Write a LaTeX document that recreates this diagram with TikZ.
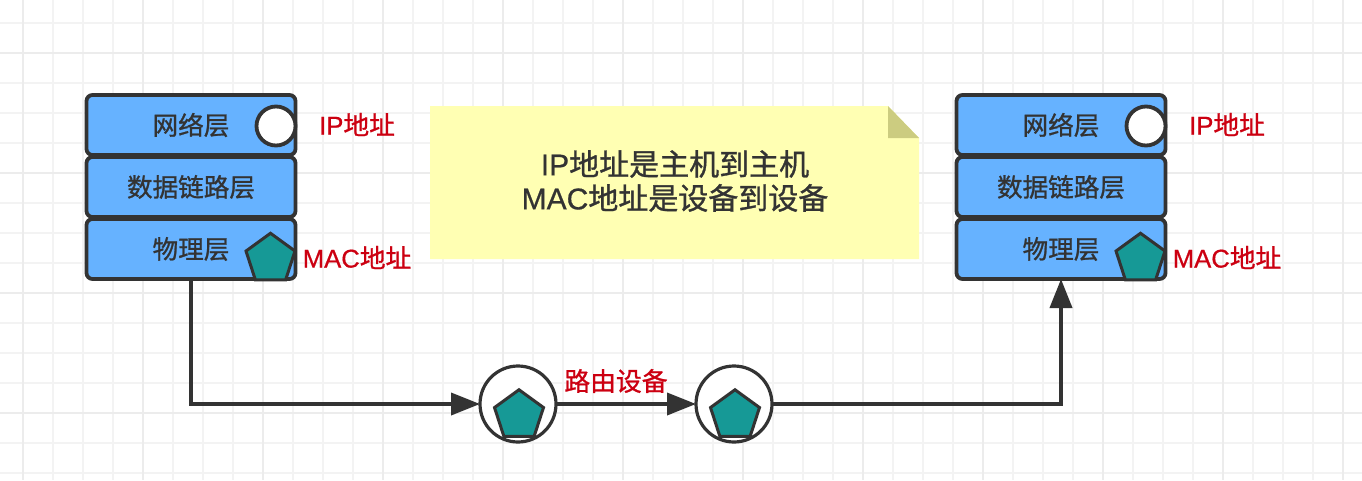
\documentclass[tikz,border=0pt]{standalone}
\usepackage{fontspec}
\setmainfont[FakeBold=1.0]{Noto Sans CJK SC}
\newfontfamily\latinf[FakeBold=0.6]{Liberation Sans}
\usetikzlibrary{shapes.geometric,arrows.meta}
\definecolor{ink}{HTML}{333333}
\definecolor{redtext}{HTML}{CC0011}
\definecolor{bluefill}{HTML}{66B2FF}
\definecolor{tealfill}{HTML}{169996}
\definecolor{notefill}{HTML}{FFFFB3}
\definecolor{foldfill}{HTML}{CCCC80}
\definecolor{gridminor}{HTML}{F3F3F3}
\definecolor{gridmajor}{HTML}{ECECEC}
\tikzset{
  x=1pt,y=-1pt,
  layerbox/.style={draw=ink,fill=bluefill,line width=3.8pt,rounded corners=6pt,minimum width=209pt,minimum height=60pt,inner sep=0pt,outer sep=0pt,text=ink,font=\fontsize{25.6}{30}\selectfont},
  iphole/.style={circle,draw=ink,fill=white,line width=3.8pt,minimum size=39pt,inner sep=0pt},
  penta/.style={regular polygon,regular polygon sides=5,draw=ink,fill=tealfill,line width=3pt,minimum size=51.5pt,inner sep=0pt},
  routerring/.style={circle,draw=ink,fill=white,line width=3.2pt,minimum size=76pt,inner sep=0pt,outer sep=0pt},
  redlabel/.style={text=redtext,inner sep=0pt,font=\fontsize{25.7}{30}\selectfont},
  routerlabel/.style={text=redtext,inner sep=0pt,font=\fontsize{25.8}{30}\selectfont},
  notetext/.style={text=ink,inner sep=0pt,align=center,font=\fontsize{30}{34}\selectfont},
  wire/.style={draw=ink,line width=3.8pt},
  wirearrow/.style={wire,-{Triangle[length=29pt,width=22pt]}},
}
\begin{document}
\begin{tikzpicture}
\useasboundingbox (0,0) rectangle (1362,480);
\fill[white] (0,0) rectangle (1362,480);
% grid
\foreach \gx in {23,53,...,1343} \draw[gridminor,line width=1.5pt] (\gx,0) -- (\gx,480);
\foreach \gy in {23,53,...,473} \draw[gridminor,line width=1.5pt] (0,\gy) -- (1362,\gy);
\foreach \gx in {23,143,...,1343} \draw[gridmajor,line width=1.8pt] (\gx,0) -- (\gx,480);
\foreach \gy in {53,173,293,413} \draw[gridmajor,line width=1.8pt] (0,\gy) -- (1362,\gy);
% note
\fill[notefill] (430,106) -- (888,106) -- (919,138) -- (919,259) -- (430,259) -- cycle;
\fill[foldfill] (888,106) -- (919,138) -- (888,138) -- cycle;
\node[notetext] (note) at (675,181) {{\latinf IP}地址是主机到主机\\{\latinf MAC}地址是设备到设备};
% left stack
\node[layerbox] (netL) at (191,125) {网络层};
\node[layerbox] (linkL) at (191,187) {数据链路层};
\node[layerbox] (physL) at (191,249) {物理层};
\node[iphole] (ipL) at (276,126) {};
\node[penta] (macL) at (270.5,259) {};
\node[redlabel] (iplabelL) at (357,124.5) {{\latinf IP}地址};
\node[redlabel] (maclabelL) at (357,257.5) {{\latinf MAC}地址};
% right stack
\node[layerbox] (netR) at (1061,125) {网络层};
\node[layerbox] (linkR) at (1061,187) {数据链路层};
\node[layerbox] (physR) at (1061,249) {物理层};
\node[iphole] (ipR) at (1146,126) {};
\node[penta] (macR) at (1140.5,259) {};
\node[redlabel] (iplabelR) at (1227,124.5) {{\latinf IP}地址};
\node[redlabel] (maclabelR) at (1227,257.5) {{\latinf MAC}地址};
% routers
\node[routerring] (r1) at (518,404) {};
\node[routerring] (r2) at (734,404) {};
\node[penta] (p1) at (519,415.5) {};
\node[penta] (p2) at (735,415.5) {};
\node[routerlabel] (rlabel) at (616,381) {路由设备};
% connectors
\draw[wirearrow] (physL.south) |- (r1.west);
\draw[wirearrow] (r1.east) -- (r2.west);
\draw[wirearrow] (r2.east) -| (physR.south);
\end{tikzpicture}
\end{document}
